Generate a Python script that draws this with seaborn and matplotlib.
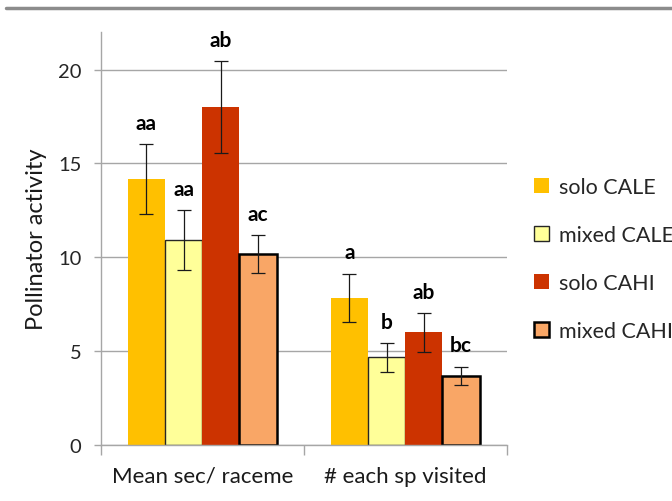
import numpy as np
import matplotlib
matplotlib.use('Agg')
import matplotlib.pyplot as plt
import matplotlib.lines as mlines
import matplotlib.patches as mpatches
import pandas as pd
import seaborn as sns

# data
categories = ['Mean sec/ raceme', '# each sp visited']
groups = ['solo CALE', 'mixed CALE', 'solo CAHI', 'mixed CAHI']
means_sec = [14.17, 10.9, 18.02, 10.16]
means_visited = [7.83, 4.67, 6.0, 3.69]
err_sec = [1.87, 1.6, 2.46, 1.0]
err_visited = [1.3, 0.77, 1.03, 0.48]
letters_sec = ['aa', 'aa', 'ab', 'ac']
letters_visited = ['a', 'b', 'ab', 'bc']

colors = ['#FFC000', '#FFFF99', '#CC3300', '#F9A666']
edges = ['none', '#262626', 'none', '#000000']
edge_w = [0, 1.0, 0, 1.8]

df = pd.DataFrame({
    'category': np.repeat(categories, len(groups)),
    'group': groups * len(categories),
    'value': means_sec + means_visited,
    'err': err_sec + err_visited,
    'letter': letters_sec + letters_visited,
})

sns.set_style('white')
plt.rcParams['font.family'] = ['Lato', 'DejaVu Sans']

fig = plt.figure(figsize=(6.72, 5.02), dpi=100)
ax = fig.add_axes([0.150, 0.112, 0.604, 0.822])

sns.barplot(data=df, x='category', y='value', hue='group', order=categories,
            hue_order=groups, palette=colors, width=0.733, errorbar=None,
            saturation=1, legend=False, ax=ax)

# style bars + error bars + letters
bar_conts = list(ax.containers)
for gi, cont in enumerate(bar_conts):
    sub = df[df.group == groups[gi]].set_index('category').loc[categories]
    for patch, (_, row) in zip(cont.patches, sub.iterrows()):
        patch.set_linewidth(0)
        if edges[gi] != 'none':
            patch.set_edgecolor(edges[gi])
            patch.set_linewidth(edge_w[gi])
        xc = patch.get_x() + patch.get_width() / 2
        ax.errorbar(xc, row.value, yerr=row.err, fmt='none', ecolor='#1a1a1a',
                    elinewidth=0.9, capsize=5, capthick=0.9, zorder=5)
        ax.annotate(row.letter, (xc, row.value + row.err), xytext=(0, 8),
                    textcoords='offset points', ha='center', va='bottom',
                    fontsize=15, fontweight='bold', color='black')

ax.set_ylim(0, 22)
ax.set_xlim(-0.5, 1.5)
ax.set_yticks([0, 5, 10, 15, 20])
ax.yaxis.grid(True, color='#A6A6A6', linewidth=1)
ax.set_axisbelow(True)
for s in ['top', 'right']:
    ax.spines[s].set_visible(False)
for s in ['left', 'bottom']:
    ax.spines[s].set_color('#A6A6A6')
    ax.spines[s].set_linewidth(1)

ax.tick_params(axis='y', which='major', left=True, length=5, width=1,
               color='#A6A6A6', pad=9, labelsize=14.5, labelcolor='#262626')
ax.tick_params(axis='x', which='major', bottom=False, length=0, pad=15,
               labelsize=16, labelcolor='#1a1a1a')
ax.set_xticks([-0.5, 0.5, 1.5], minor=True)
ax.tick_params(axis='x', which='minor', bottom=True, length=7, width=1,
               color='#A6A6A6')
ax.set_xlabel('')
ax.set_ylabel('Pollinator activity', fontsize=17, color='#1a1a1a', labelpad=8)

handles = [mpatches.Patch(facecolor=c, edgecolor=(e if e != 'none' else c),
                          linewidth=(w if w else 0)) for c, e, w in zip(colors, edges, edge_w)]
fig.legend(handles, groups, loc='upper left', bbox_to_anchor=(0.782, 0.663),
           frameon=False, fontsize=15.5, handlelength=0.71, handleheight=0.71,
           handletextpad=0.45, labelspacing=1.31, borderaxespad=0)

fig.add_artist(mlines.Line2D([0.009, 1.0], [0.982, 0.982], color='#8c8c8c',
                             linewidth=2.5, transform=fig.transFigure))

fig.savefig('out.png', dpi=100)
